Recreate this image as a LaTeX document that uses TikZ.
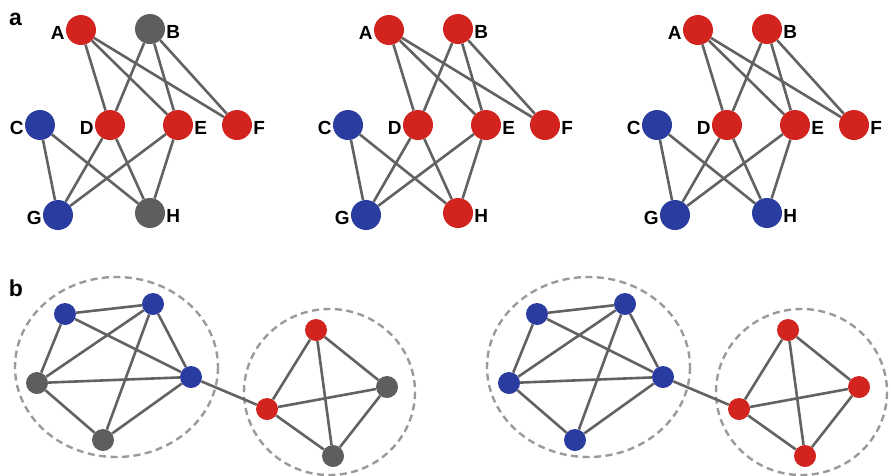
\documentclass[tikz,border=0pt]{standalone}
\usepackage{fontspec}
\setmainfont{Liberation Sans}
\usepackage{xcolor}
\usepackage{tikz}
\definecolor{nodered}{HTML}{D2231E}
\definecolor{nodeblue}{HTML}{2A3C9F}
\definecolor{nodegray}{HTML}{5E5E5E}
\definecolor{edgegray}{HTML}{626262}
\definecolor{dashgray}{HTML}{9A9A9A}
\tikzstyle{vertex} = [circle, minimum size=30pt, inner sep=0pt, label distance=3pt]
\tikzstyle{dot} = [circle, minimum size=22pt, inner sep=0pt]
\tikzstyle{edge} = [draw=edgegray, line width=2.6pt]
\tikzstyle{cluster} = [draw=dashgray, dash pattern=on 7pt off 4.5pt, line width=2.4pt]
\tikzstyle{lbl} = [font=\fontsize{19}{21}\selectfont\bfseries, inner sep=1pt, yshift=-2.5pt]
\tikzstyle{panel} = [font=\fontsize{23}{26}\selectfont\bfseries]

\begin{document}
\begin{tikzpicture}[x=1pt, y=-1pt]
	\useasboundingbox (0,0) rectangle (891,475);

	\node (pa) [panel] at (15.5,19) {a};
	\node (pb) [panel] at (16,288) {b};

	% three colourings of the same graph
	\foreach \dx/\cb/\ch [count=\k] in {0/nodegray/nodegray, 308/nodered/nodered, 617/nodered/nodeblue} {
		\begin{scope}[xshift=\dx pt]
			\node (A\k) [vertex, fill=nodered, label={[lbl]left:A}] at (81,30) {};
			\node (B\k) [vertex, fill=\cb, label={[lbl]right:B}] at (150,29) {};
			\node (C\k) [vertex, fill=nodeblue, label={[lbl]left:C}] at (40,125) {};
			\node (D\k) [vertex, fill=nodered, label={[lbl]left:D}] at (110,125) {};
			\node (E\k) [vertex, fill=nodered, label={[lbl]right:E}] at (178,125) {};
			\node (F\k) [vertex, fill=nodered, label={[lbl]right:F}] at (237,125) {};
			\node (G\k) [vertex, fill=nodeblue, label={[lbl]left:G}] at (58,215) {};
			\node (H\k) [vertex, fill=\ch, label={[lbl]right:H}] at (150,213) {};

			\draw [edge] (A\k) -- (D\k);
			\draw [edge] (A\k) -- (E\k);
			\draw [edge] (A\k) -- (F\k);
			\draw [edge] (B\k) -- (D\k);
			\draw [edge] (B\k) -- (E\k);
			\draw [edge] (B\k) -- (F\k);
			\draw [edge] (C\k) -- (G\k);
			\draw [edge] (C\k) -- (H\k);
			\draw [edge] (D\k) -- (G\k);
			\draw [edge] (D\k) -- (H\k);
			\draw [edge] (E\k) -- (G\k);
			\draw [edge] (E\k) -- (H\k);
		\end{scope}
	}

	% two communities joined by one bridge
	\foreach \dx/\cp/\cq [count=\k] in {0/nodegray/nodegray, 472/nodeblue/nodered} {
		\begin{scope}[xshift=\dx pt]
			\draw [cluster] (116.5,367) ellipse [x radius=101.5, y radius=90];
			\draw [cluster] (329.5,392) ellipse [x radius=85.5, y radius=83];

			\node (p1\k) [dot, fill=nodeblue] at (65,314) {};
			\node (p2\k) [dot, fill=nodeblue] at (153,304) {};
			\node (p3\k) [dot, fill=nodeblue] at (191,377) {};
			\node (p4\k) [dot, fill=\cp] at (37,383) {};
			\node (p5\k) [dot, fill=\cp] at (103,440) {};

			\node (q1\k) [dot, fill=nodered] at (267,409) {};
			\node (q2\k) [dot, fill=nodered] at (316,330) {};
			\node (q3\k) [dot, fill=\cq] at (387,387) {};
			\node (q4\k) [dot, fill=\cq] at (333,456) {};

			\draw [edge] (p1\k) -- (p2\k);
			\draw [edge] (p1\k) -- (p3\k);
			\draw [edge] (p1\k) -- (p4\k);
			\draw [edge] (p2\k) -- (p3\k);
			\draw [edge] (p2\k) -- (p4\k);
			\draw [edge] (p2\k) -- (p5\k);
			\draw [edge] (p3\k) -- (p4\k);
			\draw [edge] (p3\k) -- (p5\k);
			\draw [edge] (p4\k) -- (p5\k);

			\draw [edge] (p3\k) -- (q1\k);

			\draw [edge] (q1\k) -- (q2\k);
			\draw [edge] (q1\k) -- (q3\k);
			\draw [edge] (q1\k) -- (q4\k);
			\draw [edge] (q2\k) -- (q3\k);
			\draw [edge] (q2\k) -- (q4\k);
			\draw [edge] (q3\k) -- (q4\k);
		\end{scope}
	}
\end{tikzpicture}
\end{document}
